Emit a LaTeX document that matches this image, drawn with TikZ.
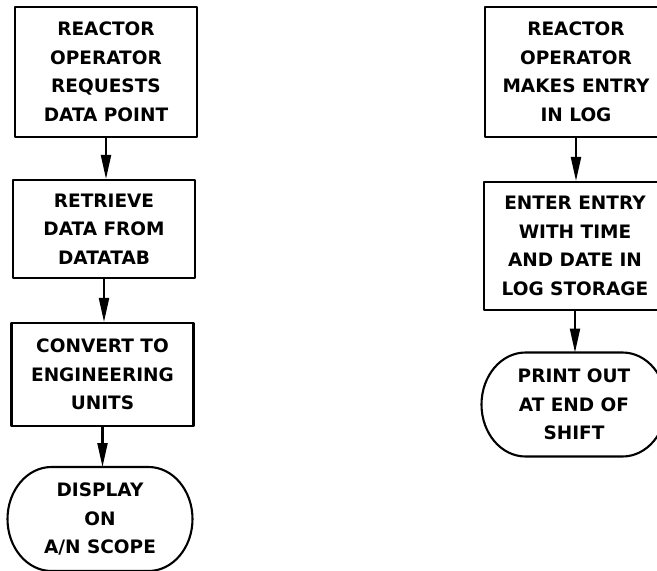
\documentclass[tikz,border=0pt]{standalone}
\usepackage{fontspec}
\setmainfont{DejaVu Sans}
\usetikzlibrary{arrows.meta}
% outline of a terminal box, round at the sides
\newcommand{\termoutline}[1]{%
  \draw ([xshift=44pt]#1.north west) -- ([xshift=-44pt]#1.north east)
    arc[start angle=90, end angle=-90, x radius=44pt, y radius=52pt]
    -- ([xshift=44pt]#1.south west)
    arc[start angle=270, end angle=90, x radius=44pt, y radius=52pt] -- cycle;}
\begin{document}
\begin{tikzpicture}[x=1pt, y=-1pt, line width=2.1pt, line join=round, >={Triangle[length=24pt,width=10pt]},
  txt/.style={align=center, inner sep=0pt, font=\bfseries\fontsize{18.5}{28.5}\selectfont},
  stepbox/.style={txt, draw, minimum width=182pt},
  termbox/.style={txt, outer sep=0pt, minimum width=185pt, minimum height=104pt}]
	\useasboundingbox (0,0) rectangle (657,571);
	% left column
	\node[stepbox, minimum height=130pt] (rop) at (106,72) {REACTOR\\OPERATOR\\REQUESTS\\DATA POINT};
	\node[stepbox, minimum height=98pt] (fetch) at (104,229) {RETRIEVE\\DATA FROM\\DATATAB};
	\node[stepbox, minimum height=103pt] (conv) at (102.5,374.5) {CONVERT TO\\ENGINEERING\\UNITS};
	\node[termbox] (disp) at (100,519) {DISPLAY\\ON\\A/N SCOPE};
	\termoutline{disp}
	\draw[->] (rop.south) -- (rop.south |- fetch.north);
	\draw[->] (fetch.south) -- (fetch.south |- conv.north);
	\draw[->] (conv.south) -- (conv.south |- disp.north);
	% right column
	\node[stepbox, minimum height=130pt] (logent) at (576,72) {REACTOR\\OPERATOR\\MAKES ENTRY\\IN LOG};
	\node[stepbox, minimum height=128pt] (logstore) at (575,246) {ENTER ENTRY\\WITH TIME\\AND DATE IN\\LOG STORAGE};
	\node[termbox] (print) at (574,404.5) {PRINT OUT\\AT END OF\\SHIFT};
	\termoutline{print}
	\draw[->] (logent.south) -- (logent.south |- logstore.north);
	\draw[->] (logstore.south) -- (logstore.south |- print.north);
\end{tikzpicture}
\end{document}
